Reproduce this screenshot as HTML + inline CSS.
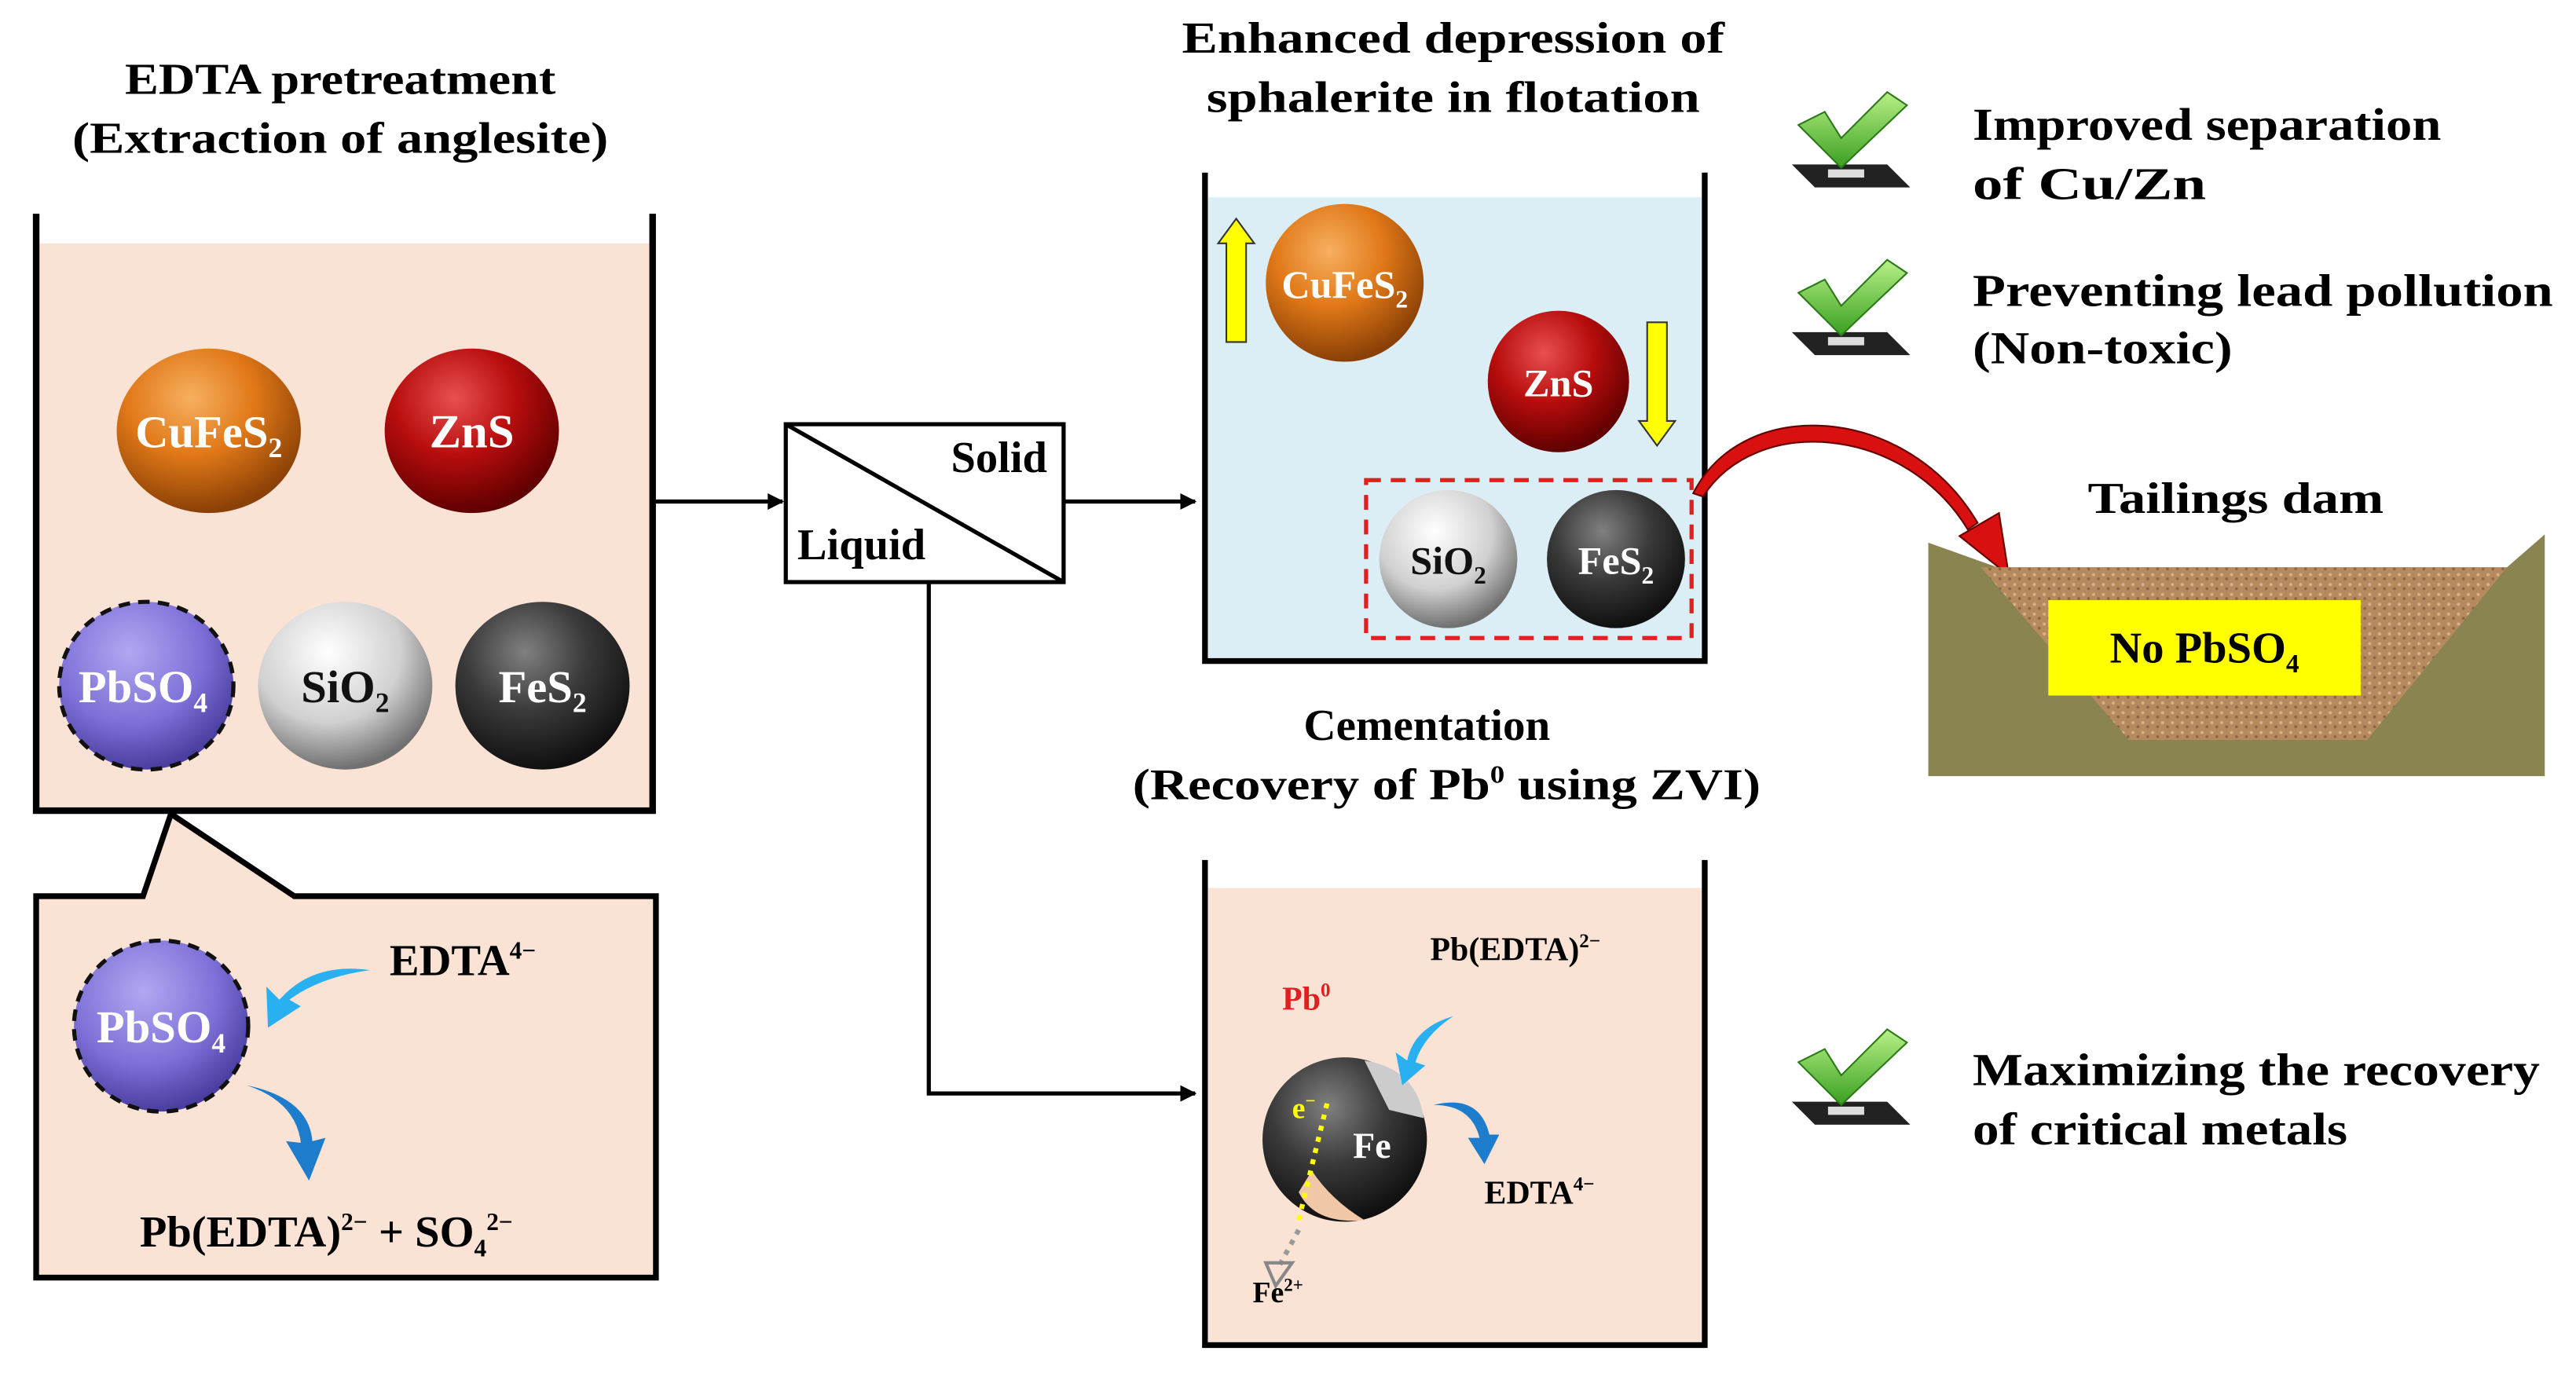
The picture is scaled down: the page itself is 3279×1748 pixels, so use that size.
<!DOCTYPE html>
<html><head><meta charset="utf-8"><style>
html,body{margin:0;padding:0;background:#fff}
svg{display:block}
text{font-family:"Liberation Serif",serif;font-weight:bold}
</style></head><body>
<svg width="3279" height="1748" viewBox="0 0 1567 835" preserveAspectRatio="none" xmlns="http://www.w3.org/2000/svg">
<defs>
<radialGradient id="gCu" cx="0.4" cy="0.3" r="0.7"><stop offset="0" stop-color="#f7b060"/><stop offset="0.5" stop-color="#e07818"/><stop offset="1" stop-color="#8a4006"/></radialGradient>
<radialGradient id="gZn" cx="0.4" cy="0.3" r="0.7"><stop offset="0" stop-color="#e85050"/><stop offset="0.5" stop-color="#b80d0d"/><stop offset="1" stop-color="#600000"/></radialGradient>
<radialGradient id="gPb" cx="0.4" cy="0.3" r="0.7"><stop offset="0" stop-color="#b0a8f0"/><stop offset="0.6" stop-color="#7d70d8"/><stop offset="1" stop-color="#4a3ea0"/></radialGradient>
<radialGradient id="gSi" cx="0.4" cy="0.3" r="0.7"><stop offset="0" stop-color="#ffffff"/><stop offset="0.6" stop-color="#d0d0d0"/><stop offset="1" stop-color="#707070"/></radialGradient>
<radialGradient id="gFe" cx="0.4" cy="0.3" r="0.7"><stop offset="0" stop-color="#808080"/><stop offset="0.5" stop-color="#3a3a3a"/><stop offset="1" stop-color="#101010"/></radialGradient>
<linearGradient id="gChk" x1="0" y1="0" x2="0" y2="1"><stop offset="0" stop-color="#b8f088"/><stop offset="1" stop-color="#3aa020"/></linearGradient>
<pattern id="sand" width="6" height="6" patternUnits="userSpaceOnUse"><rect width="6" height="6" fill="#b58a5e"/><circle cx="1.5" cy="1.5" r="1" fill="#d8b088"/><circle cx="4.5" cy="4" r="0.9" fill="#8e6642"/></pattern>
<marker id="ah" markerWidth="10" markerHeight="10" refX="9" refY="5" orient="auto" markerUnits="userSpaceOnUse"><path d="M0,0 L10,5 L0,10 z" fill="#000"/></marker>
</defs>

<text x="207" y="57" font-size="27" text-anchor="middle" textLength="262" lengthAdjust="spacingAndGlyphs">EDTA pretreatment</text>
<text x="207" y="93" font-size="27" text-anchor="middle" textLength="326" lengthAdjust="spacingAndGlyphs">(Extraction of anglesite)</text>
<rect x="24" y="148" width="372" height="344" fill="#fae3d5"/>
<path d="M22,130 V493 H397 V130" fill="none" stroke="#000" stroke-width="4"/>
<ellipse cx="127" cy="262" rx="56" ry="50" fill="url(#gCu)"/>
<text x="127" y="272" font-size="28" fill="#fff" text-anchor="middle">CuFeS<tspan font-size="17" dy="6">2</tspan></text>
<ellipse cx="287" cy="262" rx="53" ry="50" fill="url(#gZn)"/>
<text x="287" y="272" font-size="29" fill="#fff" text-anchor="middle">ZnS</text>
<ellipse cx="89" cy="417" rx="53" ry="51" fill="url(#gPb)" stroke="#111" stroke-width="2.5" stroke-dasharray="7,5"/>
<text x="87" y="427" font-size="28" fill="#fff" text-anchor="middle">PbSO<tspan font-size="17" dy="6">4</tspan></text>
<ellipse cx="210" cy="417" rx="53" ry="51" fill="url(#gSi)"/>
<text x="210" y="427" font-size="28" fill="#111" text-anchor="middle">SiO<tspan font-size="17" dy="6">2</tspan></text>
<ellipse cx="330" cy="417" rx="53" ry="51" fill="url(#gFe)"/>
<text x="330" y="427" font-size="28" fill="#fff" text-anchor="middle">FeS<tspan font-size="17" dy="6">2</tspan></text>

<path d="M22,545 H87 L104,495 L179,545 H399 V777 H22 Z" fill="#fae3d5" stroke="#000" stroke-width="3.5"/>
<ellipse cx="98" cy="624" rx="53" ry="52" fill="url(#gPb)" stroke="#111" stroke-width="2.5" stroke-dasharray="7,5"/>
<text x="98" y="634" font-size="28" fill="#fff" text-anchor="middle">PbSO<tspan font-size="17" dy="6">4</tspan></text>
<path d="M225,590 Q190,585 170,608 L162,600 L163,625 L183,612 L176,608 Q195,594 225,590 Z" fill="#29b0f0"/>
<path d="M150,660 Q180,670 183,695 L174,694 L188,718 L198,692 L190,694 Q188,668 150,660 Z" fill="#1e7ccc"/>
<text x="237" y="593" font-size="27">EDTA<tspan font-size="15" dy="-10">4−</tspan></text>
<text x="85" y="758" font-size="27">Pb(EDTA)<tspan font-size="15" dy="-10">2−</tspan><tspan dy="10"> + SO</tspan><tspan font-size="15" dy="6">4</tspan><tspan font-size="15" dy="-16">2−</tspan></text>

<line x1="397" y1="305" x2="476" y2="305" stroke="#000" stroke-width="2.5" marker-end="url(#ah)"/>
<rect x="478" y="258" width="169" height="96" fill="#fff" stroke="#000" stroke-width="2.5"/>
<line x1="478" y1="258" x2="647" y2="354" stroke="#000" stroke-width="2.5"/>
<text x="637" y="287" font-size="27" text-anchor="end">Solid</text>
<text x="485" y="340" font-size="27">Liquid</text>
<line x1="647" y1="305" x2="727" y2="305" stroke="#000" stroke-width="2.5" marker-end="url(#ah)"/>
<polyline points="565,354 565,665 727,665" fill="none" stroke="#000" stroke-width="2.5" marker-end="url(#ah)"/>

<text x="884" y="32" font-size="27" text-anchor="middle" textLength="330" lengthAdjust="spacingAndGlyphs">Enhanced depression of</text>
<text x="884" y="68" font-size="27" text-anchor="middle" textLength="300" lengthAdjust="spacingAndGlyphs">sphalerite in flotation</text>
<rect x="735" y="120" width="300" height="280" fill="#dbeef5"/>
<path d="M733,105 V402 H1037 V105" fill="none" stroke="#000" stroke-width="3.5"/>
<path d="M746,208 V148 H741 L752,133 L763,148 H758 V208 Z" fill="#ffff00" stroke="#333" stroke-width="1"/>
<path d="M1002,196 V256 H997 L1008,271 L1019,256 H1014 V196 Z" fill="#ffff00" stroke="#333" stroke-width="1"/>
<circle cx="818" cy="172" r="48" fill="url(#gCu)"/>
<text x="818" y="181" font-size="24" fill="#fff" text-anchor="middle">CuFeS<tspan font-size="15" dy="6">2</tspan></text>
<circle cx="948" cy="232" r="43" fill="url(#gZn)"/>
<text x="948" y="241" font-size="24" fill="#fff" text-anchor="middle">ZnS</text>
<rect x="831" y="292" width="198" height="96" fill="none" stroke="#e02020" stroke-width="2.5" stroke-dasharray="9,6"/>
<circle cx="881" cy="340" r="42" fill="url(#gSi)"/>
<text x="881" y="349" font-size="24" fill="#111" text-anchor="middle">SiO<tspan font-size="15" dy="6">2</tspan></text>
<circle cx="983" cy="340" r="42" fill="url(#gFe)"/>
<text x="983" y="349" font-size="24" fill="#fff" text-anchor="middle">FeS<tspan font-size="15" dy="6">2</tspan></text>
<path d="M1030,300 C1060,240 1160,245 1203,318 L1197,322 C1158,258 1068,252 1036,302 Z" fill="#d81010" stroke="#600" stroke-width="1"/>
<path d="M1192,326 L1216,312 L1222,350 Z" fill="#d81010" stroke="#600" stroke-width="1"/>

<text x="1360" y="312" font-size="27" text-anchor="middle" textLength="180" lengthAdjust="spacingAndGlyphs">Tailings dam</text>
<polygon points="1173,330 1215,345 1525,345 1548,325 1548,472 1173,472" fill="#8a8450"/>
<polygon points="1205,345 1525,345 1440,450 1295,450" fill="url(#sand)"/>
<rect x="1246" y="365" width="190" height="58" fill="#ffff00"/>
<text x="1341" y="403" font-size="27" text-anchor="middle">No PbSO<tspan font-size="16" dy="6">4</tspan></text>

<g id="chk">
<path d="M1090,100 L1148,100 L1162,114 L1104,114 Z" fill="#222"/>
<rect x="1112" y="103" width="22" height="5" fill="#ddd"/>
<path d="M1094,76 L1110,68 L1120,84 L1148,56 L1160,64 L1120,102 Z" fill="url(#gChk)" stroke="#2a7a18" stroke-width="1"/>
</g>
<use href="#chk" y="102"/>
<use href="#chk" y="570"/>
<g font-size="28">
<text x="1200" y="85" textLength="285" lengthAdjust="spacingAndGlyphs">Improved separation</text>
<text x="1200" y="121" textLength="142" lengthAdjust="spacingAndGlyphs">of Cu/Zn</text>
<text x="1200" y="186" textLength="353" lengthAdjust="spacingAndGlyphs">Preventing lead pollution</text>
<text x="1200" y="221" textLength="158" lengthAdjust="spacingAndGlyphs">(Non-toxic)</text>
<text x="1200" y="660" textLength="345" lengthAdjust="spacingAndGlyphs">Maximizing the recovery</text>
<text x="1200" y="696" textLength="228" lengthAdjust="spacingAndGlyphs">of critical metals</text>
</g>

<text x="868" y="450" font-size="27" text-anchor="middle" textLength="150" lengthAdjust="spacingAndGlyphs">Cementation</text>
<text x="880" y="486" font-size="27" text-anchor="middle" textLength="382" lengthAdjust="spacingAndGlyphs">(Recovery of Pb<tspan font-size="15" dy="-10">0</tspan><tspan dy="10"> using ZVI)</tspan></text>
<rect x="735" y="540" width="300" height="276" fill="#fae3d5"/>
<path d="M733,523 V818 H1037 V523" fill="none" stroke="#000" stroke-width="3.5"/>
<text x="870" y="584" font-size="20">Pb(EDTA)<tspan font-size="12" dy="-8">2−</tspan></text>
<text x="780" y="614" font-size="20" fill="#e02020">Pb<tspan font-size="12" dy="-8">0</tspan></text>
<circle cx="818" cy="693" r="50" fill="url(#gFe)"/>
<path d="M830,645 Q862,650 866,680 L845,675 Z" fill="#ccc"/>
<path d="M790,725 Q800,745 830,742 Q810,730 798,712 Z" fill="#f0c8a8"/>
<text x="823" y="704" font-size="22" fill="#fff">Fe</text>
<text x="786" y="680" font-size="18" fill="#ffff00">e<tspan font-size="11" dy="-7">−</tspan></text>
<path d="M790,742 L808,668" stroke="#ffff00" stroke-width="3" stroke-dasharray="3,4"/>
<path d="M884,618 Q860,625 856,645 L849,640 L853,660 L867,648 L861,646 Q866,630 884,618 Z" fill="#29b0f0"/>
<path d="M872,672 Q895,672 900,692 L893,692 L903,708 L912,690 L906,690 Q900,665 872,672 Z" fill="#1e7ccc"/>
<path d="M790,748 L777,772" stroke="#999" stroke-width="3" stroke-dasharray="3,4"/>
<path d="M770,768 L786,768 L776,782 Z" fill="none" stroke="#888" stroke-width="2"/>
<text x="903" y="732" font-size="20">EDTA<tspan font-size="12" dy="-8">4−</tspan></text>
<text x="762" y="792" font-size="18">Fe<tspan font-size="11" dy="-7">2+</tspan></text>
</svg>
</body></html>
